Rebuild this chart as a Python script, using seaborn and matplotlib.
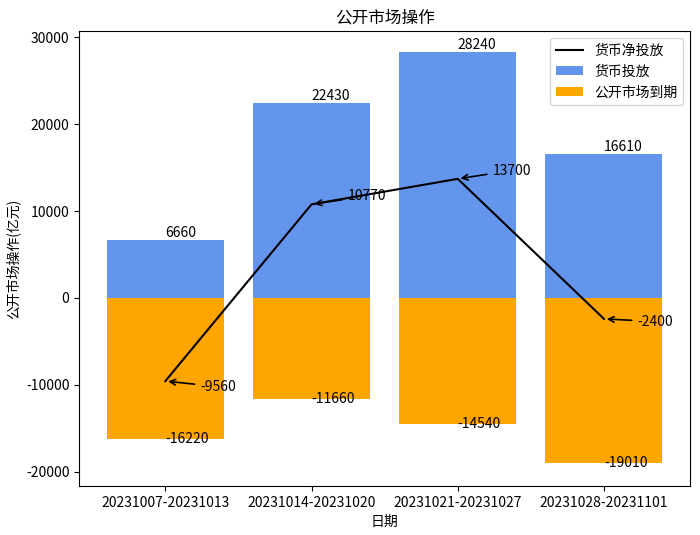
import numpy as np
import pandas as pd
import matplotlib
matplotlib.use("Agg")
import matplotlib.pyplot as plt
import seaborn as sns

dates = ["20231007-20231013", "20231014-20231020", "20231021-20231027", "20231028-20231101"]
investment = [6660, 22430, 28240, 16610]
maturity = [-16220, -11660, -14540, -19010]
net = [-9560, 10770, 13700, -2400]
annot_offsets = [(25, -4), (26, 6), (25, 6), (24, -2)]

plt.rcParams['font.family'] = ['Noto Sans CJK SC', 'DejaVu Sans']
plt.rcParams['axes.unicode_minus'] = False

fig = plt.figure(figsize=(7.0, 5.35), dpi=100)
ax = fig.add_axes([0.113, 0.092, 0.873, 0.85])

df = pd.DataFrame({"date": dates, "inv": investment, "mat": maturity, "net": net})
sns.barplot(data=df, x="date", y="inv", color="#6495ED", saturation=1, width=0.8,
            label="货币投放", ax=ax)
sns.barplot(data=df, x="date", y="mat", color="#FFA500", saturation=1, width=0.8,
            label="公开市场到期", ax=ax)
pos = np.arange(len(dates))
sns.lineplot(x=pos, y=df["net"], color="black", linewidth=1.5, label="货币净投放", ax=ax)

for i, v in enumerate(investment):
    ax.text(i, v, str(v), ha="left", va="bottom", fontsize=10)
for i, v in enumerate(maturity):
    ax.text(i, v, str(v), ha="left", va="center", fontsize=10)
for i, v in enumerate(net):
    ax.annotate(str(v), xy=(i, v), xytext=annot_offsets[i], textcoords="offset points",
                ha="left", va="center", fontsize=10,
                arrowprops=dict(arrowstyle="->", color="black", lw=1.2))

ax.set_xlim(-0.59, 3.59)
ax.set_ylim(-21600, 30700)
ax.set_xticks(pos)
ax.set_xticklabels(dates, fontsize=10)
ax.tick_params(axis="y", labelsize=10)
ax.set_xlabel("日期", fontsize=10)
ax.set_ylabel("公开市场操作(亿元)", fontsize=10)
ax.set_title("公开市场操作", fontsize=12)

handles, labels = ax.get_legend_handles_labels()
order = ["货币净投放", "货币投放", "公开市场到期"]
hmap = dict(zip(labels, handles))
ax.legend([hmap[l] for l in order], order, loc="upper right", fontsize=10)

fig.savefig("out.png", dpi=100)
